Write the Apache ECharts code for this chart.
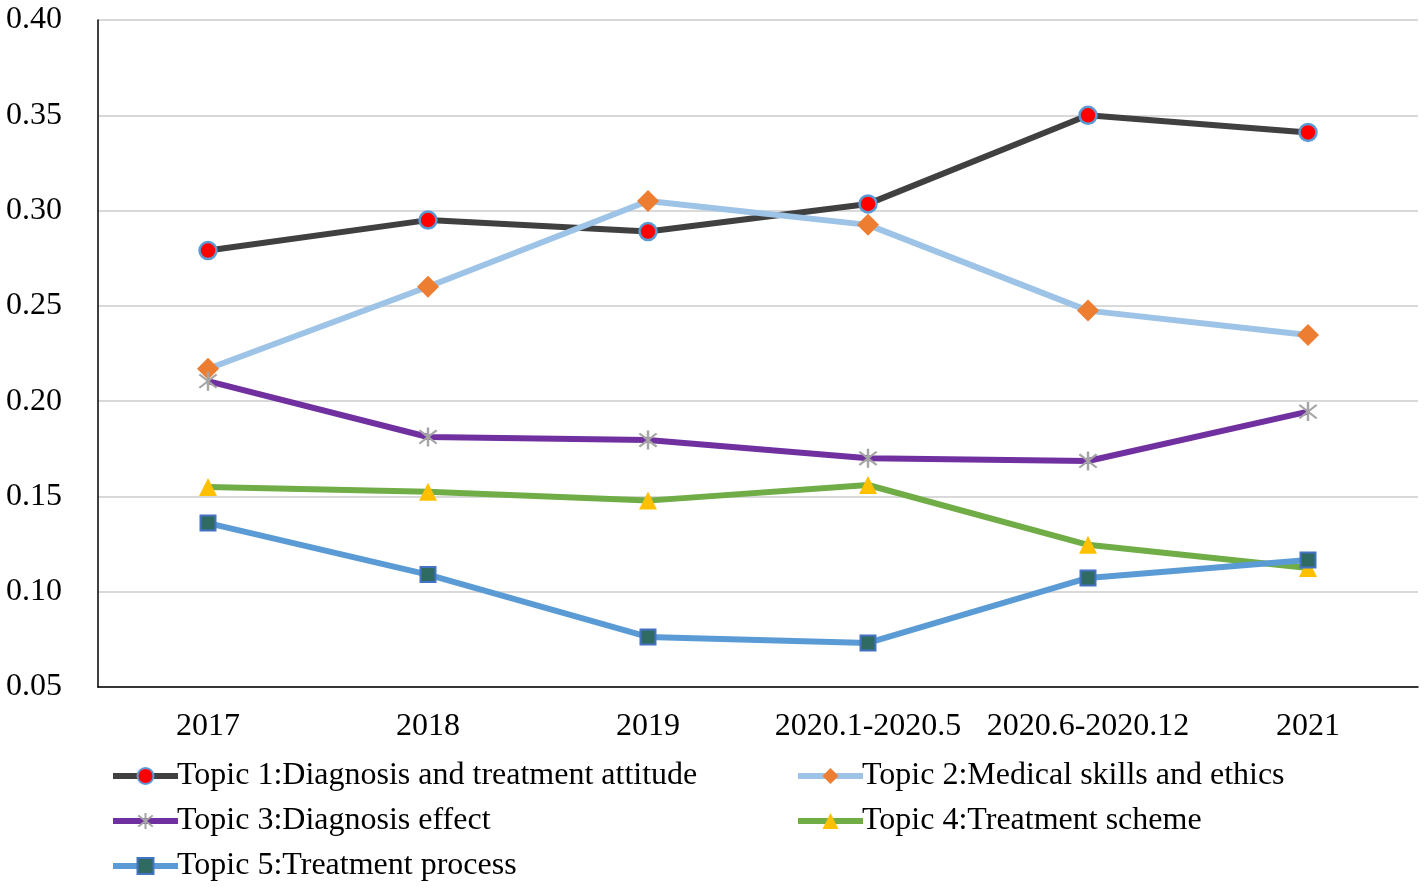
<!DOCTYPE html>
<html><head><meta charset="utf-8">
<script src="https://cdn.jsdelivr.net/npm/echarts@6/dist/echarts.min.js"></script>
<style>html,body{margin:0;padding:0;background:#fff}#c{width:1424px;height:889px}</style>
</head><body><div id="c"></div>
<script>
const categories = ['2017','2018','2019','2020.1-2020.5','2020.6-2020.12','2021'];
const yTicks = [0.05,0.10,0.15,0.20,0.25,0.30,0.35,0.40];
const names = ['Topic 1:Diagnosis and treatment attitude','Topic 2:Medical skills and ethics','Topic 3:Diagnosis effect','Topic 4:Treatment scheme','Topic 5:Treatment process'];
const topic1 = [0.279,0.295,0.289,0.3035,0.350,0.341];
const topic2 = [0.217,0.260,0.305,0.2925,0.2475,0.2347];
const topic3 = [0.2105,0.1812,0.1796,0.1700,0.1686,0.1945];
const topic4 = [0.1550,0.1525,0.1478,0.1560,0.1246,0.1125];
const topic5 = [0.1360,0.1090,0.0763,0.0731,0.1072,0.1167];

const asterisk = 'path://M9,0L11,0L11,20L9,20Z M3.64,2.22L17.78,16.36L16.36,17.78L2.22,3.64Z M16.36,2.22L17.78,3.64L3.64,17.78L2.22,16.36Z';
const font = 'Liberation Serif, Times New Roman, serif';

const chart = echarts.init(document.getElementById('c'));
function s(name, data, lineColor, symbol, size, fill, border, bw){
  return {name, type:'line', data, symbol, symbolSize:size, showSymbol:true,
    lineStyle:{color:lineColor, width:6},
    itemStyle:{color:fill, borderColor:border, borderWidth:bw},
    emphasis:{disabled:true}, animation:false};
}
const legendCommon = {orient:'vertical', top:755, itemGap:13, itemWidth:65, itemHeight:20,
  lineStyle:{width:6}, textStyle:{fontFamily:font, fontSize:32, color:'#000', padding:[0,0,0,-6]}};
chart.setOption({
  animation:false,
  grid:{left:98, right:6, top:20, bottom:202},
  xAxis:{type:'category', data:categories, boundaryGap:true,
    axisLine:{lineStyle:{color:'#000', width:1.5}}, axisTick:{show:false},
    axisLabel:{color:'#000', fontFamily:font, fontSize:32, margin:24, interval:0}},
  yAxis:{type:'value', min:yTicks[0], max:yTicks[yTicks.length-1], interval:0.05,
    axisLine:{show:true, lineStyle:{color:'#000', width:1.5}}, axisTick:{show:false},
    splitLine:{lineStyle:{color:'#D9D9D9', width:2}},
    axisLabel:{color:'#000', fontFamily:font, fontSize:32, margin:36, formatter:v=>v.toFixed(2)}},
  legend:[
    Object.assign({data:[names[0],names[2],names[4]], left:105}, legendCommon),
    Object.assign({data:[names[1],names[3]], left:790}, legendCommon)
  ],
  series:[
    s(names[0], topic1, '#404040', 'circle', 17, '#FF0000', '#5B9BD5', 2.5),
    s(names[1], topic2, '#9DC3E6', 'diamond', 22, '#ED7D31', '#ED7D31', 0),
    s(names[2], topic3, '#7030A0', asterisk, 19, '#A5A5A5', '#A5A5A5', 0),
    s(names[3], topic4, '#70AD47', 'triangle', 18, '#FFC000', '#FFC000', 0),
    s(names[4], topic5, '#5B9BD5', 'rect', 15, '#2F6B63', '#4472C4', 2)
  ]
});
</script></body></html>
